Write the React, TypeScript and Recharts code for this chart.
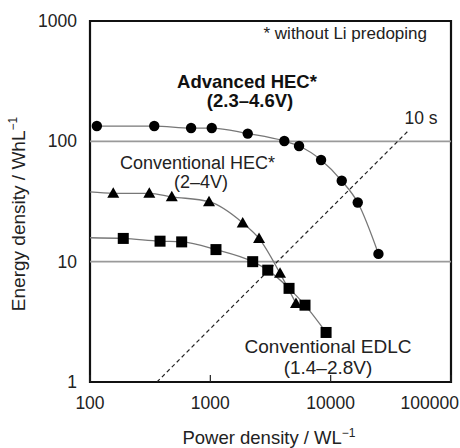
import React from "react";
import { LineChart, Line, XAxis, YAxis, ReferenceLine, ReferenceArea } from "recharts";

// Advanced HEC* (2.3–4.6V) – circles
const advPower = [114, 342, 692, 1028, 2046, 4120, 5460, 8320, 12360, 16790, 24950];
const advEnergy = [134, 134, 129, 129, 116, 100.6, 91.5, 70, 47, 31, 11.6];

// Conventional HEC* (2–4V) – triangles
const hecPower = [156, 311, 478, 975, 1858, 2540, 3795, 5150];
const hecEnergy = [37, 37, 34.6, 31.5, 21, 15.6, 8.0, 4.5];
const hecLeadIn = 38;

// Conventional EDLC (1.4–2.8V) – squares
const edlcPower = [189, 382, 578, 1114, 2250, 3000, 4510, 6120, 9160];
const edlcEnergy = [15.6, 14.8, 14.6, 12.6, 10, 8.5, 6.0, 4.35, 2.58];
const edlcLeadIn = 15.8;

// 10 s line end points
const tenSecPower = [360, 44000];
const tenSecEnergy = [1, 122];

const xTicks = [100, 1000, 10000, 100000];
const yTicks = [1, 10, 100, 1000];

const FONT = "'Liberation Sans', Arial, sans-serif";
const LINE = "#777";

const toRows = (p: number[], e: number[]) => p.map((x, i) => ({ x, y: e[i] }));
const advData = toRows(advPower, advEnergy);
const hecData = [{ x: 100, y: hecLeadIn, lead: true }, ...toRows(hecPower, hecEnergy)];
const edlcData = [{ x: 100, y: edlcLeadIn, lead: true }, ...toRows(edlcPower, edlcEnergy)];
const tenSecData = toRows(tenSecPower, tenSecEnergy);

const CircleDot = (p: any) =>
  p.payload?.lead ? <g key={p.index} /> : <circle key={p.index} cx={p.cx} cy={p.cy} r={5.2} fill="#000" />;

const TriangleDot = (p: any) => {
  if (p.payload?.lead) return <g key={p.index} />;
  const s = 6;
  return (
    <polygon
      key={p.index}
      points={`${p.cx},${p.cy - s} ${p.cx - s},${p.cy + s * 0.75} ${p.cx + s},${p.cy + s * 0.75}`}
      fill="#000"
    />
  );
};

const SquareDot = (p: any) =>
  p.payload?.lead ? <g key={p.index} /> : <rect key={p.index} x={p.cx - 5.5} y={p.cy - 5.5} width={11} height={11} fill="#000" />;

const XTick = ({ x, y, payload }: any) => {
  const last = payload.value === 100000;
  return (
    <g>
      <line x1={x} x2={x} y1={y} y2={y - 7} stroke="#222" strokeWidth={1.2} />
      <text
        x={last ? 459 : x}
        y={y + 21}
        dy="0.35em"
        textAnchor={last ? "end" : "middle"}
        fontSize={17.5}
        fontFamily={FONT}
        fill="#222"
      >
        {payload.value}
      </text>
    </g>
  );
};

const YTick = ({ x, y, payload }: any) => (
  <text x={x - 13} y={y} dy="0.35em" textAnchor="end" fontSize={17.5} fontFamily={FONT} fill="#222">
    {payload.value}
  </text>
);

export default function App() {
  return (
    <div style={{ position: "absolute", left: 0, top: 0, width: 460, height: 448, background: "#fff" }}>
      <LineChart width={460} height={448} margin={{ top: 21, right: 9, bottom: 0, left: 0 }}>
        <XAxis
          dataKey="x"
          type="number"
          scale="log"
          domain={[100, 100000]}
          ticks={xTicks}
          allowDataOverflow
          height={66}
          axisLine={false}
          tickLine={false}
          tickSize={0}
          tickMargin={0}
          tick={<XTick />}
          interval={0}
        />
        <YAxis
          dataKey="y"
          type="number"
          scale="log"
          domain={[1, 1000]}
          ticks={yTicks}
          allowDataOverflow
          width={90}
          axisLine={false}
          tickLine={false}
          tickSize={0}
          tickMargin={0}
          tick={<YTick />}
          interval={0}
        />
        <ReferenceLine y={10} stroke="#9a9a9a" strokeWidth={1.6} />
        <ReferenceLine y={100} stroke="#9a9a9a" strokeWidth={1.6} />
        <Line
          data={tenSecData}
          dataKey="y"
          stroke="#222"
          strokeWidth={1.2}
          strokeDasharray="4 3"
          dot={false}
          isAnimationActive={false}
        />
        <Line data={advData} dataKey="y" type="monotone" stroke={LINE} strokeWidth={1.3} dot={CircleDot} isAnimationActive={false} />
        <Line data={hecData} dataKey="y" type="monotone" stroke={LINE} strokeWidth={1.3} dot={TriangleDot} isAnimationActive={false} />
        <Line data={edlcData} dataKey="y" type="monotone" stroke={LINE} strokeWidth={1.3} dot={SquareDot} isAnimationActive={false} />
        <ReferenceArea x1={100} x2={100000} y1={1} y2={1000} fill="none" stroke="#111" strokeWidth={2.2} />
      </LineChart>
      <svg
        width={460}
        height={448}
        style={{ position: "absolute", left: 0, top: 0, pointerEvents: "none" }}
        fontFamily={FONT}
        fill="#222"
      >
        <text x={427} y={33} dy="0.35em" textAnchor="end" fontSize={17}>
          * without Li predoping
        </text>
        <text x={247} y={82} dy="0.35em" textAnchor="middle" fontSize={18.5} fontWeight="bold" fill="#111">
          Advanced HEC*
        </text>
        <text x={250} y={101} dy="0.35em" textAnchor="middle" fontSize={18.5} fontWeight="bold" fill="#111">
          (2.3–4.6V)
        </text>
        <text x={421} y={118} dy="0.35em" textAnchor="middle" fontSize={17.5}>
          10 s
        </text>
        <text x={120} y={163} dy="0.35em" textAnchor="start" fontSize={18}>
          Conventional HEC*
        </text>
        <text x={201} y={182} dy="0.35em" textAnchor="middle" fontSize={18}>
          (2–4V)
        </text>
        <text x={328} y={346} dy="0.35em" textAnchor="middle" fontSize={19}>
          Conventional EDLC
        </text>
        <text x={328} y={367} dy="0.35em" textAnchor="middle" fontSize={19}>
          (1.4–2.8V)
        </text>
        <text x={269} y={438} dy="0.35em" textAnchor="middle" fontSize={18.5}>
          Power density / WL
          <tspan fontSize={12} dy="-0.6em">−1</tspan>
        </text>
        <text
          x={18}
          y={214}
          dy="0.35em"
          textAnchor="middle"
          fontSize={19}
          transform="rotate(-90 18 214)"
        >
          Energy density / WhL
          <tspan fontSize={12} dy="-0.6em">−1</tspan>
        </text>
      </svg>
    </div>
  );
}
